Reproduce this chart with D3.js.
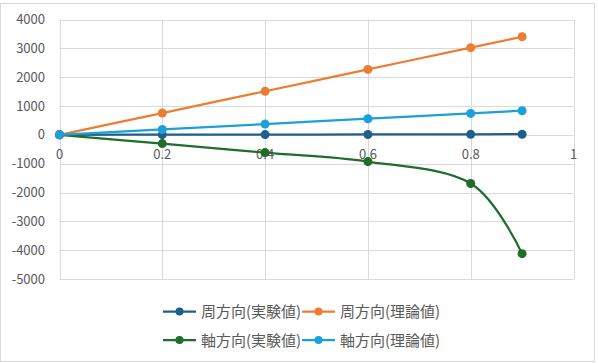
<!DOCTYPE html>
<html>
<head>
<meta charset="utf-8">
<script src="https://cdn.jsdelivr.net/npm/d3@7"></script>
<style>
  body { margin: 0; background: #fff; }
  text { font-family: "Noto Sans CJK JP", "Noto Sans", sans-serif; fill: #595959; }
</style>
</head>
<body>
<div id="chart"></div>
<script>
window.addEventListener("DOMContentLoaded", function() {
    // Data
    const xValues = [0, 0.2, 0.4, 0.6, 0.8, 0.9];
    const hoopTest = [0, 5, 8, 12, 18, 22];
    const hoopTheory = [0, 756, 1512, 2268, 3024, 3402];
    const axialTest = [0, -304, -616, -927, -1688, -4121];
    const axialTheory = [0, 186, 372, 558, 744, 837];
    const seriesNames = ['周方向(実験値)', '周方向(理論値)', '軸方向(実験値)', '軸方向(理論値)'];
    const seriesColors = ['#1F5F8B', '#ED7D31', '#1E6E2A', '#1CA0DC'];
    const xTicks = [0, 0.2, 0.4, 0.6, 0.8, 1];
    const yTicks = [-5000, -4000, -3000, -2000, -1000, 0, 1000, 2000, 3000, 4000];

    const series = [hoopTest, hoopTheory, axialTest, axialTheory].map((vals, i) => ({
        name: seriesNames[i],
        color: seriesColors[i],
        points: vals.map((v, j) => ({ x: xValues[j], y: v }))
    }));

    // Set dimensions
    const width = 598;
    const height = 363;

    const svg = d3.select('#chart')
        .append('svg')
        .attr('width', width)
        .attr('height', height);

    // Chart border
    svg.append('rect')
        .attr('x', 0.5).attr('y', 3.5)
        .attr('width', 594).attr('height', 358)
        .attr('fill', 'none')
        .attr('stroke', '#d9d9d9');

    // Scales
    const x = d3.scaleLinear().domain([0, 1]).range([59.5, 573.5]);
    const y = d3.scaleLinear().domain([-5000, 4000]).range([279, 19.5]);

    // Gridlines
    svg.append('g').selectAll('line')
        .data(yTicks)
        .enter()
        .append('line')
        .attr('x1', x(0)).attr('x2', x(1))
        .attr('y1', d => Math.round(y(d)) + 0.5)
        .attr('y2', d => Math.round(y(d)) + 0.5)
        .attr('stroke', '#d9d9d9');

    svg.append('g').selectAll('line')
        .data(xTicks)
        .enter()
        .append('line')
        .attr('x1', d => Math.round(x(d)) + 0.5)
        .attr('x2', d => Math.round(x(d)) + 0.5)
        .attr('y1', y(4000)).attr('y2', y(-5000))
        .attr('stroke', '#d9d9d9');

    // Axis labels
    svg.append('g').selectAll('text')
        .data(yTicks)
        .enter()
        .append('text')
        .attr('x', 45)
        .attr('y', d => y(d) + 4.5)
        .attr('text-anchor', 'end')
        .style('font-size', '13px')
        .text(d => d);

    svg.append('g').selectAll('text')
        .data(xTicks)
        .enter()
        .append('text')
        .attr('x', d => x(d))
        .attr('y', y(0) + 24)
        .attr('text-anchor', 'middle')
        .style('font-size', '13px')
        .text(d => d);

    // Lines
    const line = d3.line()
        .x(d => x(d.x))
        .y(d => y(d.y))
        .curve(d3.curveCardinal.tension(0));

    series.forEach(s => {
        svg.append('path')
            .datum(s.points)
            .attr('d', line)
            .attr('fill', 'none')
            .attr('stroke', s.color)
            .attr('stroke-width', 2.25);
    });

    series.forEach(s => {
        svg.append('g').selectAll('circle')
            .data(s.points)
            .enter()
            .append('circle')
            .attr('cx', d => x(d.x))
            .attr('cy', d => y(d.y))
            .attr('r', 4.5)
            .attr('fill', s.color);
    });

    // Legend
    const legend = svg.append('g');
    series.forEach((s, i) => {
        const lx = i % 2 === 0 ? 163 : 302;
        const ly = i < 2 ? 311.5 : 340;
        const g = legend.append('g').attr('transform', `translate(${lx},${ly})`);
        g.append('line')
            .attr('x1', 0).attr('x2', 33)
            .attr('stroke', s.color)
            .attr('stroke-width', 2.25);
        g.append('circle')
            .attr('cx', 16.5)
            .attr('r', 4)
            .attr('fill', s.color);
        g.append('text')
            .attr('x', 38)
            .attr('y', 5.5)
            .style('font-size', '15px')
            .text(s.name);
    });
});
</script>
</body>
</html>
